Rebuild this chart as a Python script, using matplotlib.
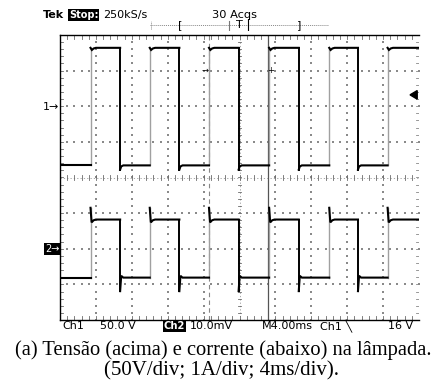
import numpy as np
import matplotlib
matplotlib.use("Agg")
import matplotlib.pyplot as plt
from matplotlib.patches import Polygon

# ---------------- data ----------------
rise_ms = [-16.6, -10.0, -3.4, 3.3, 10.0, 16.5]     # rising edges (ms, centre = 0)
fall_ms = [-13.3, -6.7, -0.1, 6.6, 13.2]            # falling edges (ms)
ch1_high_V = 82.0
ch1_low_V = -83.0
ch1_dip_V = 3.0          # small dip right after the rising edge
ch1_under_V = 6.0        # undershoot right after the falling edge
ch1_scale_V = 50.0       # V/div
ch1_offset_div = 2.0

ch2_high_A = 0.82
ch2_low_A = -0.81
ch2_peak_A = 1.15        # spike at rising edge
ch2_trough_A = -1.19     # spike at falling edge
ch2_scale_A = 1.0        # A/div
ch2_offset_div = -2.0

trig_level_V = 16.0
cursor_dashed_ms = -3.4
cursor_solid_ms = 3.2

top_labels = ["Tek", "Stop:", "250kS/s", "30 Acqs"]
bottom_labels = ["Ch1", "50.0 V", "Ch2", "10.0mV", "M4.00ms", "Ch1 \u2572", "16 V"]
caption = ["(a) Tensão (acima) e corrente (abaixo) na lâmpada.",
           "(50V/div; 1A/div; 4ms/div)."]

W, H = 445, 381
fig = plt.figure(figsize=(W / 100, H / 100), dpi=100)
ax = fig.add_axes([60 / W, 1 - 320 / H, 359 / W, 285 / H])
ax.set_xlim(-20, 20)
ax.set_ylim(-4, 4)
ax.set_xticks([]); ax.set_yticks([])
for s in ["left", "top", "bottom"]:
    ax.spines[s].set_linewidth(1.0)
    ax.spines[s].set_color("black")
ax.spines["right"].set_visible(False)

grid_c = "#8a8a8a"
tick_c = "#6a6a6a"
# dotted gridlines
minor_x = np.arange(-20, 20.01, 0.8)
minor_y = np.arange(-4, 4.01, 0.2)
for gx in np.arange(-16, 17, 4):
    if gx == 0:
        continue
    ax.scatter(np.full_like(minor_y, gx), minor_y, s=1.2, c=grid_c, marker="s", lw=0, zorder=1)
for gy in range(-3, 4):
    if gy == 0:
        continue
    ax.scatter(minor_x, np.full_like(minor_x, gy), s=1.2, c=grid_c, marker="s", lw=0, zorder=1)
# centre lines with ticks
ax.plot([-20, 20], [0, 0], color="#9a9a9a", lw=0.6, ls=(0, (1.5, 2.5)), zorder=1)
ax.plot([0, 0], [-4, 4], color="#9a9a9a", lw=0.6, ls=(0, (1.5, 2.5)), zorder=1)
for mx in minor_x:
    ax.plot([mx, mx], [-0.06, 0.06], color=tick_c, lw=0.6, zorder=1)
for my in minor_y:
    ax.plot([-0.2, 0.2], [my, my], color=tick_c, lw=0.6, zorder=1)
# edge ticks
for mx in minor_x:
    ax.plot([mx, mx], [-4, -3.9], color=tick_c, lw=0.6, zorder=1)
    ax.plot([mx, mx], [4, 3.9], color=tick_c, lw=0.6, zorder=1)
for my in minor_y:
    ax.plot([-20, -19.7], [my, my], color=tick_c, lw=0.6, zorder=1)
    ax.plot([19.7, 20], [my, my], color="#888888", lw=0.6, zorder=1)

# cursors
ax.plot([cursor_dashed_ms] * 2, [-4, 4], color="#888888", lw=0.8, ls=(0, (4, 3)), zorder=2)
ax.plot([cursor_solid_ms] * 2, [-4, 4], color="#555555", lw=0.9, zorder=2)


def draw_channel(high, low, dip, under, scale, off, spike):
    def y(v):
        return off + v / scale
    edges = sorted([(t, "r") for t in rise_ms] + [(t, "f") for t in fall_ms])
    t0 = -20.0
    state = "low"
    for t, kind in edges + [(20.0, "end")]:
        if state == "high":
            if spike:
                xs = [t0, t0 + 0.12, t0 + 0.35, t0 + 0.6, t]
                ys = [y(high + dip), y(high - 0.08), y(high - 0.02), y(high), y(high)]
            else:
                xs = [t0, t0 + 0.15, t0 + 0.35, t0 + 0.6, t]
                ys = [y(high), y(high - dip), y(high - dip * 0.3), y(high), y(high)]
        else:
            if t0 == -20.0:
                xs, ys = [t0, t], [y(low), y(low)]
            elif spike:
                xs = [t0, t0 + 0.12, t0 + 0.35, t]
                ys = [y(low - under), y(low + 0.05), y(low), y(low)]
            else:
                xs = [t0, t0 + 0.12, t0 + 0.35, t]
                ys = [y(low - under), y(low - 1.5), y(low), y(low)]
        ax.plot(xs, ys, color="black", lw=1.5, zorder=4, solid_joinstyle="miter")
        if kind == "r":
            top = high + dip if spike else high
            ax.plot([t, t], [y(low), y(top)], color="#a0a0a0", lw=1.0, zorder=3)
            state = "high"
        elif kind == "f":
            bot = low - under
            ax.plot([t, t], [y(high), y(bot)], color="black", lw=1.4, zorder=4)
            state = "low"
        t0 = t


draw_channel(ch1_high_V, ch1_low_V, ch1_dip_V, ch1_under_V, ch1_scale_V, ch1_offset_div, False)
draw_channel(ch2_high_A, ch2_low_A, ch2_peak_A - ch2_high_A, ch2_low_A - ch2_trough_A,
             ch2_scale_A, ch2_offset_div, True)

# trigger level arrow on right
ty = ch1_offset_div + trig_level_V / ch1_scale_V
tri = Polygon([[19.0, ty], [19.8, ty + 0.12], [19.8, ty - 0.12]], closed=True,
              color="black", clip_on=False, zorder=5)
ax.add_patch(tri)
# small cursor markers
ax.text(-3.8, 3.0, "\u2192", fontsize=6, ha="center", va="center", zorder=5)
ax.text(3.5, 3.0, "+", fontsize=6, ha="center", va="center", zorder=5)


def px(x, y):
    return x / W, 1 - y / H

mono = "DejaVu Sans"
fs = 8
# channel markers
fig.text(*px(59, 107), "1\u2192", fontsize=fs, family=mono, ha="right", va="center")
fig.text(*px(45, 249), "2\u2192", fontsize=7, family=mono, ha="left", va="center", color="white",
         bbox=dict(boxstyle="square,pad=0.1", fc="black", ec="none"))

# top status line
fig.text(*px(43, 15), top_labels[0], fontsize=fs, family=mono, weight="bold", ha="left", va="center")
fig.text(*px(69, 15), top_labels[1], fontsize=7, family=mono, weight="bold", ha="left", va="center",
         color="white", bbox=dict(boxstyle="square,pad=0.1", fc="black", ec="none"))
fig.text(*px(103, 15), top_labels[2], fontsize=fs, family=mono, ha="left", va="center")
fig.text(*px(235, 15), top_labels[3], fontsize=fs + 0.2, family=mono, ha="center", va="center")
# trigger position bar
bar = fig.add_axes([150 / W, 1 - 31 / H, (329 - 150) / W, 12 / H])
bar.set_xlim(150, 329); bar.set_ylim(-1, 1); bar.axis("off")
bar.plot([150, 329], [0, 0], color="#888888", lw=0.7, ls=(0, (1, 1)))
bar.plot([150.5, 150.5], [-0.6, 0.6], color="#888888", lw=0.7, ls=(0, (1, 1)))
bar.plot([328.5, 328.5], [-0.6, 0.6], color="#888888", lw=0.7, ls=(0, (1, 1)))
bar.text(180, 0, "[", fontsize=fs, ha="center", va="center")
bar.text(299, 0, "]", fontsize=fs, ha="center", va="center")
bar.text(239, 0, "T", fontsize=fs, ha="center", va="center")
bar.plot([229, 229], [-1, 0.6], color="#777777", lw=0.8)
bar.plot([248, 248], [-0.8, 1], color="black", lw=0.8)

# bottom status line
ypos = 326
fig.text(*px(62, ypos), bottom_labels[0], fontsize=fs, family=mono, ha="left", va="center")
fig.text(*px(100, ypos), bottom_labels[1], fontsize=fs, family=mono, ha="left", va="center")
fig.text(*px(164, ypos), bottom_labels[2], fontsize=7.2, family=mono, ha="left", va="center",
         color="white", weight="bold", bbox=dict(boxstyle="square,pad=0.1", fc="black", ec="none"))
fig.text(*px(190, ypos), bottom_labels[3], fontsize=fs, family=mono, ha="left", va="center")
fig.text(*px(262, ypos), bottom_labels[4], fontsize=fs, family=mono, ha="left", va="center")
fig.text(*px(320, ypos), bottom_labels[5], fontsize=fs, family=mono, ha="left", va="center")
fig.text(*px(413, ypos), bottom_labels[6], fontsize=fs, family=mono, ha="right", va="center")

# caption
fig.text(*px(223, 350), caption[0], fontsize=14.8, family="Liberation Serif", ha="center", va="center")
fig.text(*px(222, 371), caption[1], fontsize=15.0, family="Liberation Serif", ha="center", va="center")

fig.savefig("out.png", dpi=100, facecolor="white")
